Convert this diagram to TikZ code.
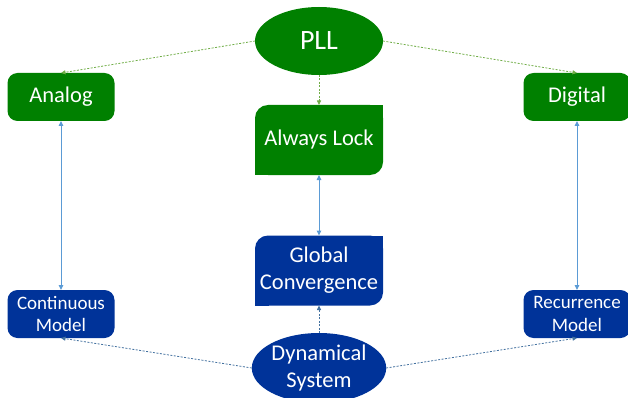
\documentclass[tikz,border=0pt]{standalone}
\usepackage{fontspec}
\setmainfont{Carlito}
\usetikzlibrary{shapes.geometric,arrows.meta}
\definecolor{pllgreen}{RGB}{0,128,0}
\definecolor{dsblue}{RGB}{0,51,153}
\definecolor{linkgreen}{RGB}{112,173,71}
\definecolor{linkblue}{RGB}{68,114,160}
\definecolor{pairblue}{RGB}{91,155,213}

\begin{document}
\begin{tikzpicture}[x=1pt,y=-1pt,
  box/.style={rectangle,rounded corners=10pt,text=white,align=center,inner sep=0pt,outer sep=0pt,
    minimum width=107pt,minimum height=48pt,font=\fontsize{22.5}{27}\selectfont},
  bigbox/.style={box,rounded corners=13pt,minimum width=128pt,minimum height=70pt},
  oval/.style={ellipse,text=white,align=center,inner sep=0pt,outer sep=0pt,
    minimum width=128pt,minimum height=70pt,font=\fontsize{22.5}{27}\selectfont},
  greenlink/.style={draw=linkgreen,line width=0.8pt,dash pattern=on 2pt off 1.5pt,
    -{Triangle[length=4.5pt,width=4pt]}},
  bluelink/.style={draw=linkblue,line width=0.8pt,dash pattern=on 2pt off 1.5pt,
    -{Triangle[length=4.5pt,width=4pt]}},
  pairlink/.style={draw=pairblue,line width=1pt,
    {Triangle[length=5pt,width=4.5pt]}-{Triangle[length=5pt,width=4.5pt]}}]
  \useasboundingbox (0,0) rectangle (628,398);

  \node[oval,fill=pllgreen,minimum height=68pt,font=\fontsize{28}{30}\selectfont] (pll) at (319,41) {PLL};
  \node[box,fill=pllgreen] (analog) at (61,97) {Analog};
  \node[box,fill=pllgreen] (digital) at (577,97) {Digital};
  \node[bigbox,fill=pllgreen] (lock) at (319,140) {Always Lock};

  \node[bigbox,fill=dsblue] (global) at (319,270.5) {Global\\Convergence};
  \node[box,fill=dsblue,font=\fontsize{19}{22.5}\selectfont] (cont) at (61,314) {Continuous\\Model};
  \node[box,fill=dsblue,font=\fontsize{19}{22.5}\selectfont] (rec) at (577,314) {Recurrence\\Model};
  \node[oval,fill=dsblue] (dyn) at (319,368) {Dynamical\\System};

  % square off the top right and bottom left corners of the middle boxes
  \fill[pllgreen] (lock.north east) rectangle ++(-14,14);
  \fill[pllgreen] (lock.south west) rectangle ++(14,-14);
  \fill[dsblue] (global.north east) rectangle ++(-14,14);
  \fill[dsblue] (global.south west) rectangle ++(14,-14);

  \draw[greenlink] (pll.west) -- (analog.north);
  \draw[greenlink] (pll.east) -- (digital.north);
  \draw[greenlink] (pll.south) -- (lock.north);

  \draw[pairlink] (analog) -- (cont);
  \draw[pairlink] (digital) -- (rec);
  \draw[pairlink] (lock) -- (global);

  \draw[bluelink] (dyn.west) -- (cont.south);
  \draw[bluelink] (dyn.east) -- (rec.south);
  \draw[bluelink] (dyn.north) -- (global.south);
\end{tikzpicture}
\end{document}
